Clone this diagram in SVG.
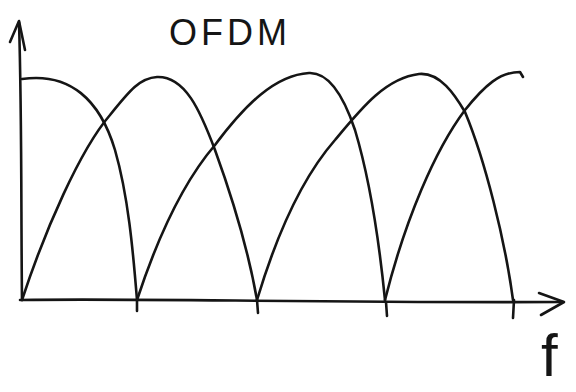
<svg xmlns="http://www.w3.org/2000/svg" width="576" height="392" viewBox="0 0 576 392">
<style>
.ln{fill:none;stroke:#151515;stroke-width:2.6;stroke-linecap:round;stroke-linejoin:round}
.tx{font-family:"Liberation Sans",Arial,sans-serif;fill:#151515}
</style>
<rect width="576" height="392" fill="#ffffff"/>
<g id="title"><text class="tx" x="169" y="45" font-size="36" letter-spacing="4">OFDM</text></g>
<g id="axes">
<path class="ln" d="M22,300 C21,220 22,120 19,22"/>
<path class="ln" d="M10,42 L19,21 L25,50"/>
<path class="ln" d="M20,300 C150,298 300,303 562,302"/>
<path class="ln" d="M539,293 L564,302 L541,315"/>
<path class="ln" d="M137,300 L137,311 M257,300 L258,313 M386,302 L387,316 M514,300 L513,318"/>
</g>
<g id="f-label"><text class="tx" x="541" y="376" font-size="60">f</text></g>
<g id="connectors">
<path id="c1" class="ln" d="M22,79 C70,72 100,100 115,150 C128,195 133,250 137,300"/>
<path id="c2" class="ln" d="M22,300 C45,230 80,150 110,115 C130,90 140,78 157,77 C185,76 200,110 215,150 C235,205 250,260 257,300"/>
<path id="c3" class="ln" d="M137,300 C160,230 185,180 215,145 C245,105 275,75 309,73 C330,72 345,100 355,130 C370,180 380,250 385,300"/>
<path id="c4" class="ln" d="M257,300 C275,240 300,180 335,140 C360,110 385,78 419,74 C440,72 455,95 465,112 C485,160 505,240 513,300"/>
<path id="c5" class="ln" d="M385,300 C405,220 435,150 465,110 C485,85 500,72 520,72 L523,77"/>
</g>
</svg>
